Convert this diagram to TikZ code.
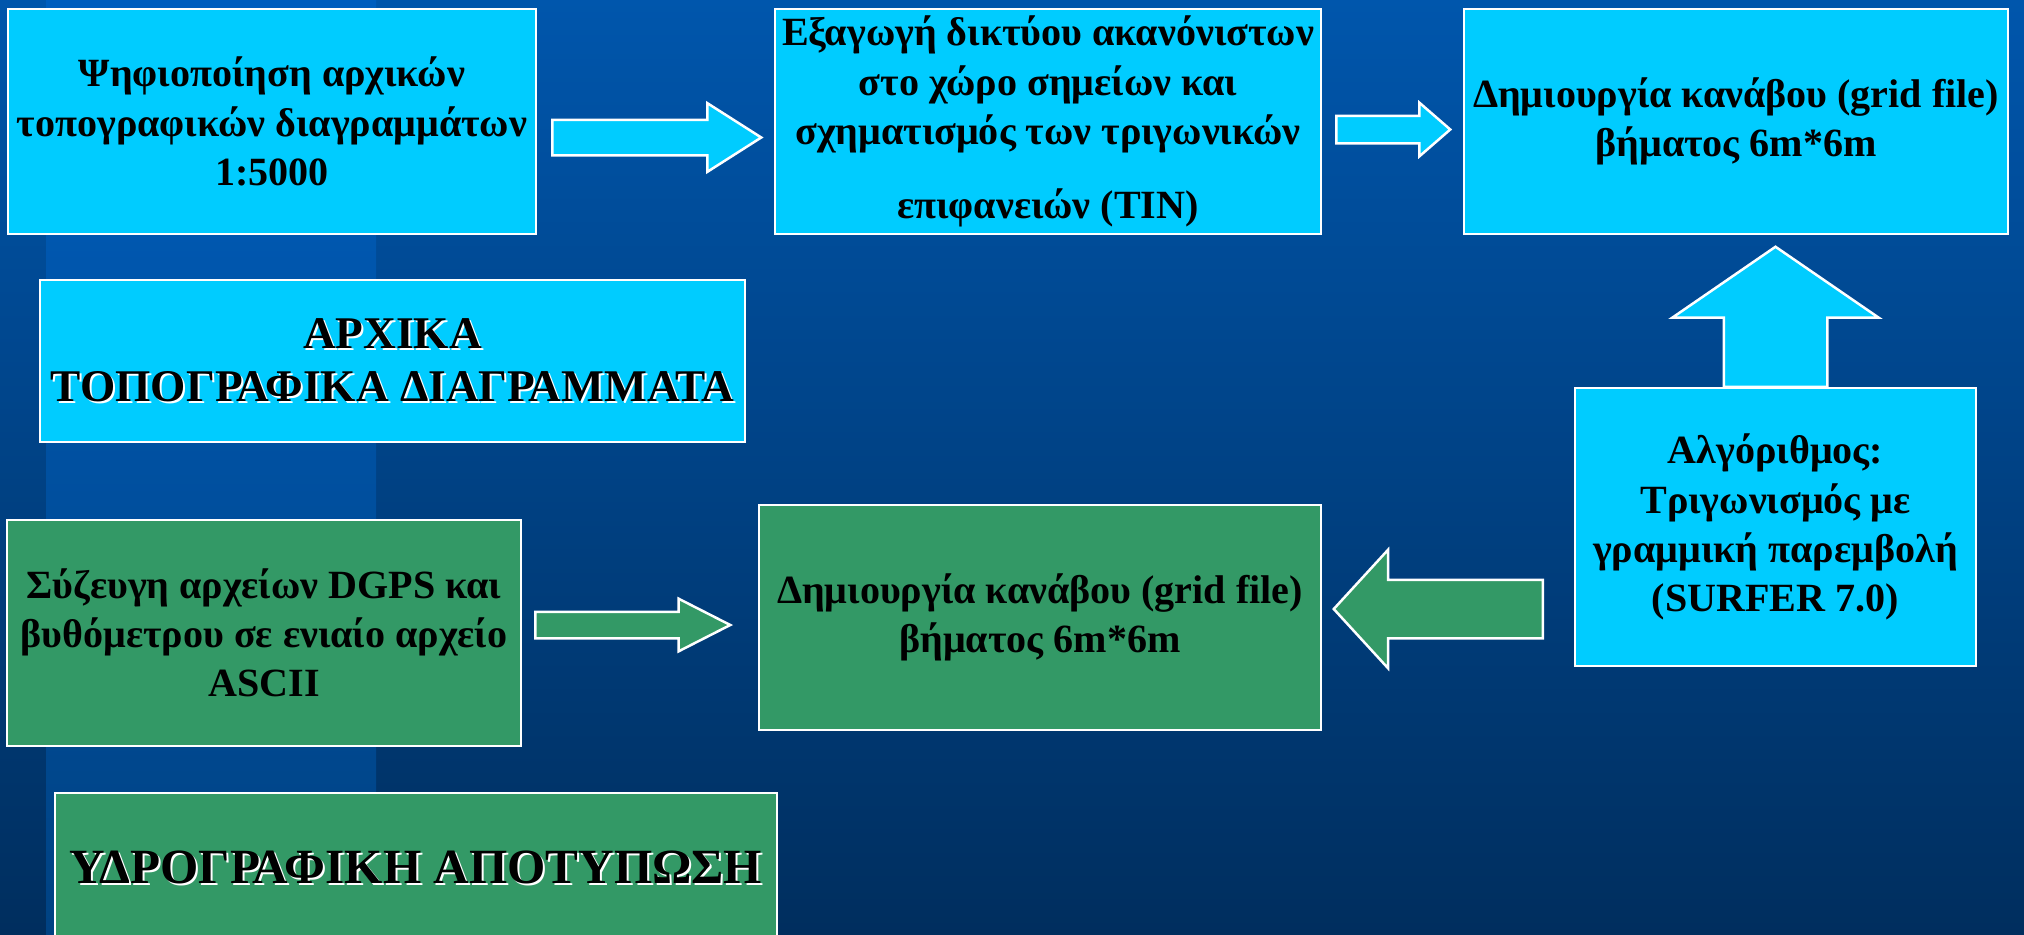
\documentclass[tikz,border=0pt]{standalone}
\usepackage{fontspec}
\usepackage{xcolor}
\usetikzlibrary{shapes.arrows}
\setmainfont{Liberation Serif}

\definecolor{cyanfill}{RGB}{0,204,255}
\definecolor{greenfill}{RGB}{51,153,102}
\definecolor{bgtop}{RGB}{0,86,172}
\definecolor{bgbottom}{RGB}{0,46,94}
\definecolor{bandtop}{RGB}{0,94,190}
\definecolor{bandbottom}{RGB}{0,66,130}

\newcommand\embossed[1]{\leavevmode\rlap{\kern0.2mm\raisebox{-0.2mm}{\color{white}#1}}#1}

\tikzset{
    box/.style={draw=white, line width=0.25mm, inner sep=0pt, align=center,
        font=\fontsize{11.4}{14}\selectfont\bfseries},
    cyanbox/.style={box, fill=cyanfill},
    greenbox/.style={box, fill=greenfill},
    blockarrow/.style={single arrow, draw=white, line width=0.25mm, inner xsep=0pt,
        single arrow head indent=0pt, anchor=tail}
}

\begin{document}
\begin{tikzpicture}[x=0.1mm, y=-0.1mm]
            \useasboundingbox (0,0) rectangle (2024,934);
            \clip (0,0) rectangle (2024,934);

            %background and light band
            \shade[top color=bgtop, bottom color=bgbottom] (0,0) rectangle (2024,934);
            \shade[top color=bandtop, bottom color=bandbottom] (46,0) rectangle (376,934);

            %top row
            \node[cyanbox, minimum width=52.8mm, minimum height=22.5mm] (digit) at (272,121.5)
                {Ψηφιοποίηση αρχικών\\ τοπογραφικών διαγραμμάτων\\ 1:5000};
            \node[cyanbox, minimum width=54.6mm, minimum height=22.5mm] (tin) at (1048,121.5)
                {Εξαγωγή δικτύου ακανόνιστων\\ στο χώρο σημείων και\\ σχηματισμός των τριγωνικών\\[2.5mm] επιφανειών (TIN)};
            \node[cyanbox, minimum width=54.4mm, minimum height=22.5mm] (gridtop) at (1736,121.5)
                {Δημιουργία κανάβου (grid file)\\ βήματος 6m*6m};

            \node[cyanbox, font=\fontsize{12.9}{15}\selectfont\bfseries,
                minimum width=70.5mm, minimum height=16.2mm] (archika) at (392.5,361)
                {\embossed{ΑΡΧΙΚΑ}\\ \embossed{ΤΟΠΟΓΡΑΦΙΚΑ ΔΙΑΓΡΑΜΜΑΤΑ}};

            \node[cyanbox, minimum width=40.1mm, minimum height=27.8mm] (algo) at (1775.5,527)
                {Αλγόριθμος:\\ Τριγωνισμός με\\ γραμμική παρεμβολή\\ (SURFER 7.0)};

            %bottom row
            \node[greenbox, minimum width=51.4mm, minimum height=22.6mm] (dgps) at (264,633)
                {Σύζευγη αρχείων DGPS και \\ βυθόμετρου σε ενιαίο αρχείο\\ ASCII};
            \node[greenbox, minimum width=56.2mm, minimum height=22.5mm] (gridbot) at (1040,617.5)
                {Δημιουργία κανάβου (grid file)\\ βήματος 6m*6m};

            \node[greenbox, font=\fontsize{14}{16}\selectfont\bfseries,
                minimum width=72.2mm, minimum height=15mm] (hydro) at (416,868)
                {\embossed{ΥΔΡΟΓΡΑΦΙΚΗ ΑΠΟΤΥΠΩΣΗ}};

            %block arrows
            \node[blockarrow, fill=cyanfill, inner ysep=1.65mm, minimum height=20.9mm,
                single arrow head extend=1.65mm, single arrow tip angle=65] (a1) at (551,137.5) {};
            \node[blockarrow, fill=cyanfill, inner ysep=1.25mm, minimum height=11.4mm,
                single arrow head extend=1.3mm, single arrow tip angle=82] (a2) at (1335,129.5) {};
            \node[blockarrow, fill=cyanfill, rotate=90, inner ysep=5.05mm, minimum height=14mm,
                single arrow head extend=5.15mm, single arrow tip angle=111] (a3) at (1775.5,388) {};
            \node[blockarrow, fill=greenfill, rotate=180, inner ysep=2.8mm, minimum height=20.9mm,
                single arrow head extend=3mm, single arrow tip angle=95] (a4) at (1544,609) {};
            \node[blockarrow, fill=greenfill, inner ysep=1.2mm, minimum height=19.5mm,
                single arrow head extend=1.3mm, single arrow tip angle=54] (a5) at (534,625) {};

        \end{tikzpicture}
\end{document}
